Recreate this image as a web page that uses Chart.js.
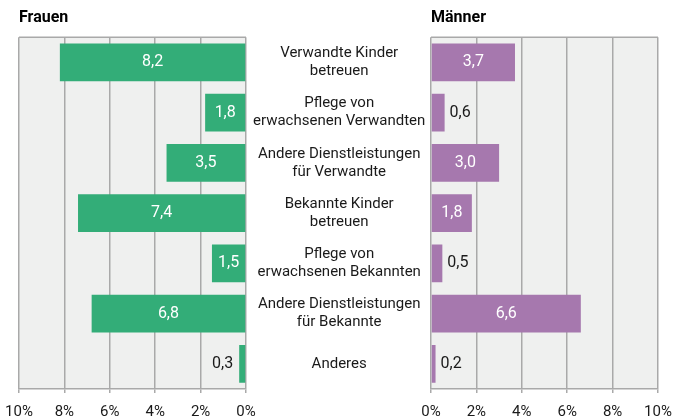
<!DOCTYPE html>
<html>
<head>
<meta charset="utf-8">
<script src="https://cdn.jsdelivr.net/npm/chart.js@4"></script>
<style>
  body { margin: 0; background: #fff; }
  #wrap { position: relative; width: 674px; height: 420px; }
  canvas { position: absolute; top: 0; }
  #leftChart { left: 0; }
  #rightChart { left: 412px; }
</style>
</head>
<body>
<div id="wrap">
  <canvas id="leftChart" width="431" height="420"></canvas>
  <canvas id="rightChart" width="262" height="420"></canvas>
</div>
<script>
const categories = [
  ['Verwandte Kinder', 'betreuen'],
  ['Pflege von', 'erwachsenen Verwandten'],
  ['Andere Dienstleistungen', 'für Verwandte'],
  ['Bekannte Kinder', 'betreuen'],
  ['Pflege von', 'erwachsenen Bekannten'],
  ['Andere Dienstleistungen', 'für Bekannte'],
  'Anderes'
];
const frauen = [8.2, 1.8, 3.5, 7.4, 1.5, 6.8, 0.3];
const maenner = [3.7, 0.6, 3.0, 1.8, 0.5, 6.6, 0.2];
const xTicks = [0, 2, 4, 6, 8, 10];

const fontFamily = 'Roboto, "Liberation Sans", sans-serif';
const gridColor = '#a9a9a9';

// plot background + top frame line
const plotBg = {
  id: 'plotBg',
  beforeDraw(chart) {
    const { ctx, chartArea: a } = chart;
    ctx.save();
    ctx.fillStyle = '#eff0ef';
    ctx.fillRect(a.left, a.top, a.right - a.left, a.bottom - a.top);
    ctx.strokeStyle = gridColor;
    ctx.lineWidth = 1.5;
    ctx.beginPath();
    ctx.moveTo(a.left, a.top);
    ctx.lineTo(a.right, a.top);
    ctx.stroke();
    ctx.restore();
  }
};

// value labels: white inside big bars, dark outside small ones
const valueLabels = {
  id: 'valueLabels',
  afterDatasetsDraw(chart) {
    const { ctx } = chart;
    const reversed = chart.options.scales.x.reverse;
    const meta = chart.getDatasetMeta(0);
    const values = chart.data.datasets[0].data;
    ctx.save();
    ctx.font = '16px ' + fontFamily;
    ctx.textBaseline = 'middle';
    meta.data.forEach((bar, i) => {
      const v = values[i];
      const txt = v.toFixed(1).replace('.', ',');
      if (v >= 1) {
        ctx.fillStyle = '#ffffff';
        ctx.textAlign = 'center';
        ctx.fillText(txt, (bar.x + bar.base) / 2, bar.y);
      } else {
        ctx.fillStyle = '#1a1a1a';
        ctx.textAlign = reversed ? 'right' : 'left';
        ctx.fillText(txt, reversed ? bar.x - 6 : bar.x + 5, bar.y);
      }
    });
    ctx.restore();
  }
};

function xScale(reverse) {
  return {
    type: 'linear',
    min: 0,
    max: 10,
    reverse: reverse,
    afterBuildTicks: (s) => { s.ticks = xTicks.map(v => ({ value: v })); },
    afterFit: (s) => {
      s.height = 31;
      s.paddingLeft = 0;
      s.paddingRight = 0;
    },
    ticks: {
      color: '#1a1a1a',
      font: { family: fontFamily, size: 15, lineHeight: 1.2 },
      padding: 10,
      maxRotation: 0,
      callback: (v) => v + '%'
    },
    grid: { color: gridColor, lineWidth: 1.5, tickLength: 4 },
    border: { color: gridColor, width: 1.5 }
  };
}

function titleOpts(text) {
  return {
    display: true,
    text: text,
    align: 'start',
    color: '#000',
    font: { family: fontFamily, size: 16, weight: 'bold', lineHeight: 1.2 },
    padding: { top: 8, bottom: 10 }
  };
}

new Chart(document.getElementById('leftChart'), {
  type: 'bar',
  data: {
    labels: categories,
    datasets: [{
      data: frauen,
      backgroundColor: '#33ad78',
      categoryPercentage: 0.75,
      barPercentage: 1.0
    }]
  },
  options: {
    indexAxis: 'y',
    responsive: false,
    animation: false,
    layout: { padding: { left: 19, right: 0, top: 0, bottom: 0 } },
    plugins: {
      legend: { display: false },
      tooltip: { enabled: false },
      title: titleOpts('Frauen')
    },
    scales: {
      x: xScale(true),
      y: {
        position: 'right',
        grid: { display: false, drawTicks: false },
        border: { display: false },
        ticks: {
          color: '#1a1a1a',
          crossAlign: 'center',
          padding: 7,
          font: { family: fontFamily, size: 15, lineHeight: 1.2 }
        },
        afterFit: (s) => { s.width = 185; }
      }
    }
  },
  plugins: [plotBg, valueLabels]
});

new Chart(document.getElementById('rightChart'), {
  type: 'bar',
  data: {
    labels: categories,
    datasets: [{
      data: maenner,
      backgroundColor: '#a678ae',
      categoryPercentage: 0.75,
      barPercentage: 1.0
    }]
  },
  options: {
    indexAxis: 'y',
    responsive: false,
    animation: false,
    layout: { padding: { left: 19, right: 16, top: 0, bottom: 0 } },
    plugins: {
      legend: { display: false },
      tooltip: { enabled: false },
      title: titleOpts('Männer')
    },
    scales: {
      x: xScale(false),
      y: { display: false }
    }
  },
  plugins: [plotBg, valueLabels]
});
</script>
</body>
</html>
